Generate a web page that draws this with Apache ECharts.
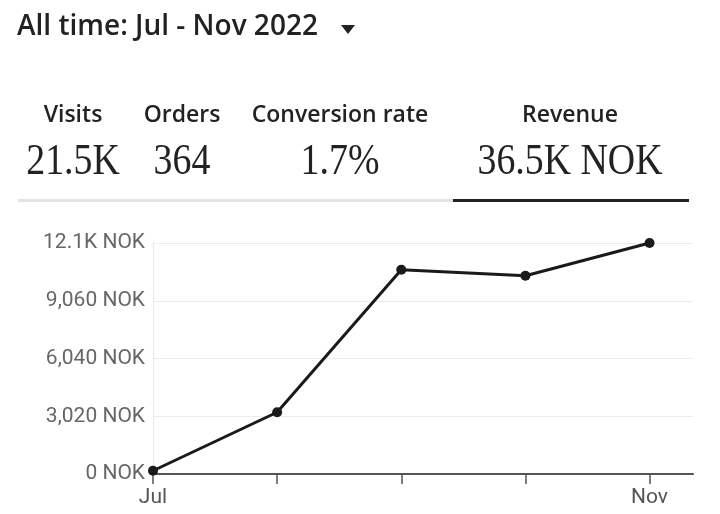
<!DOCTYPE html>
<html><head><meta charset="utf-8">
<script src="https://cdn.jsdelivr.net/npm/echarts@6/dist/echarts.min.js"></script>
<style>html,body{margin:0;padding:0;background:#fff}#c{width:720px;height:514px}</style>
</head><body><div id="c"></div>
<script>
const months = ['Jul','Aug','Sep','Oct','Nov'];
const revenue = [170, 3230, 10680, 10370, 12080];
const yTicks = [0, 3020, 6040, 9060, 12080];
const yTickLabels = ['0 NOK','3,020 NOK','6,040 NOK','9,060 NOK','12.1K NOK'];
const shownMonthLabels = [0, 4];
const metricNames = ['Visits','Orders','Conversion rate','Revenue'];
const metricValues = ['21.5K','364','1.7%','36.5K NOK'];
const headerTitle = 'All time: Jul - Nov 2022';

const chart = echarts.init(document.getElementById('c'));
const sans = 'Roboto, "Noto Sans", sans-serif';
const wide = '"Open Sans", Roboto, sans-serif';
const metricX = [73, 182, 340, 570];
const valueX = [73, 182, 340, 570];
const graphics = [
  {type:'text', left:17, top:13, style:{text:headerTitle, font:'600 28px '+wide, fill:'#222'}},
  {type:'polygon', shape:{points:[[341,25],[355,25],[348,34]]}, style:{fill:'#222'}},
  {type:'rect', shape:{x:18,y:199,width:435,height:3}, style:{fill:'#e2e2e2'}},
  {type:'rect', shape:{x:453,y:199,width:236,height:3}, style:{fill:'#222'}}
];
metricNames.forEach((n,i)=>{
  graphics.push({type:'text', x:metricX[i], y:104, style:{text:n, font:'600 23px '+wide, fill:'#222', align:'center'}});
  graphics.push({type:'text', x:valueX[i], y:140, scaleX:0.86, style:{text:metricValues[i], font:'44px "Liberation Serif", serif', fill:'#222', align:'center'}});
});

chart.setOption({
  animation:false,
  graphic: graphics,
  grid:{left:153, right:27, top:243, bottom:40, containLabel:false},
  xAxis:{
    type:'value', min:0, max:4.35, interval:1,
    splitLine:{show:false},
    axisLine:{show:true, lineStyle:{color:'#555', width:2}},
    axisTick:{show:true, length:10, lineStyle:{color:'#555', width:1.5}, customValues:[0,1,2,3,4]},
    axisLabel:{customValues:shownMonthLabels, formatter:v=>months[Math.round(v)], color:'#555', fontSize:21, fontFamily:sans, margin:13}
  },
  yAxis:{
    type:'value', min:0, max:12080, interval:3020,
    axisLine:{show:true, lineStyle:{color:'#e8e8e8', width:1}},
    axisTick:{show:false},
    splitLine:{lineStyle:{color:'#ececec', width:1}},
    axisLabel:{color:'#666', fontSize:21, fontFamily:sans, margin:8,
      formatter:v=>{const i=yTicks.indexOf(v); return i>=0?yTickLabels[i]:'';}}
  },
  series:[{
    type:'line',
    data: revenue.map((v,i)=>[i,v]),
    symbol:'circle', symbolSize:10,
    lineStyle:{color:'#1a1a1a', width:3},
    itemStyle:{color:'#1a1a1a'}
  }]
});
</script></body></html>
